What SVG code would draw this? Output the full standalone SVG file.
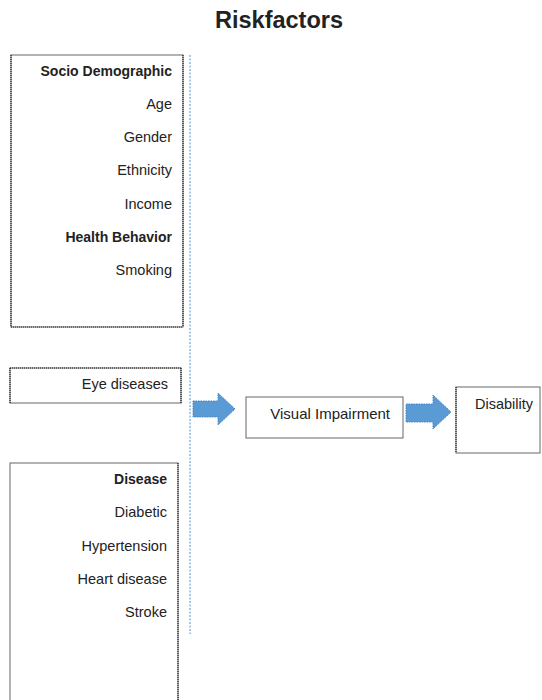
<svg xmlns="http://www.w3.org/2000/svg" width="542" height="700" viewBox="0 0 542 700">
<style>
.t{font-family:"Liberation Sans",Arial,sans-serif;font-size:14.5px;fill:#222;text-anchor:end}
.b{font-weight:bold;font-size:14px}
.box{fill:#fff;stroke:#666;stroke-width:1}
.dot{stroke:#222;stroke-width:1.2;stroke-dasharray:1 1;fill:none}
.arrow{fill:#5b9bd5;stroke:#4a86c0;stroke-width:1;stroke-dasharray:1.5 1}
</style>
<rect width="542" height="700" fill="#fff"/>
<text x="279" y="28" font-family="Liberation Sans,Arial,sans-serif" font-weight="bold" font-size="23.5" fill="#222" text-anchor="middle">Riskfactors</text>
<g id="connectors">
<line x1="190" y1="55" x2="190" y2="634" stroke="#4a90d9" stroke-width="1" stroke-dasharray="2 1.5"/>
<path id="arrow1" class="arrow" d="M193,401 H218 V393 L235,409 L218,425 V417 H193 Z"/>
<path id="arrow2" class="arrow" d="M406,404 H433 V395 L451,412 L433,429 V422 H406 Z"/>
</g>
<g id="sociodemographic">
<rect class="box" x="11" y="55" width="172" height="272"/>
<line class="dot" x1="11" y1="55" x2="11" y2="327"/>
<line class="dot" x1="183" y1="55" x2="183" y2="327"/>
<line class="dot" x1="11" y1="327" x2="183" y2="327"/>
<text class="t b" x="172" y="76">Socio Demographic</text>
<text class="t" x="172" y="109">Age</text>
<text class="t" x="172" y="142">Gender</text>
<text class="t" x="172" y="175">Ethnicity</text>
<text class="t" x="172" y="209">Income</text>
<text class="t b" x="172" y="242">Health Behavior</text>
<text class="t" x="172" y="275">Smoking</text>
</g>
<g id="eyediseases">
<rect class="box" x="10" y="368" width="171" height="35"/>
<line class="dot" x1="10" y1="368" x2="181" y2="368"/>
<line class="dot" x1="181" y1="368" x2="181" y2="403"/>
<line class="dot" x1="10" y1="368" x2="10" y2="403"/>
<text class="t" x="168" y="389">Eye diseases</text>
</g>
<g id="visualimpairment">
<rect class="box" x="246" y="397" width="157" height="41" stroke-width="1.3"/>
<text class="t" x="390" y="419" style="font-size:15px">Visual Impairment</text>
</g>
<g id="disability">
<rect class="box" x="456" y="387" width="84" height="66"/>
<line class="dot" x1="456" y1="387" x2="456" y2="453"/>
<text class="t" x="533" y="409">Disability</text>
</g>
<g id="disease">
<rect class="box" x="10" y="463" width="168" height="250"/>
<line class="dot" x1="178" y1="463" x2="178" y2="700"/>
<text class="t b" x="167" y="484">Disease</text>
<text class="t" x="167" y="517">Diabetic</text>
<text class="t" x="167" y="551">Hypertension</text>
<text class="t" x="167" y="584">Heart disease</text>
<text class="t" x="167" y="617">Stroke</text>
</g>
</svg>
